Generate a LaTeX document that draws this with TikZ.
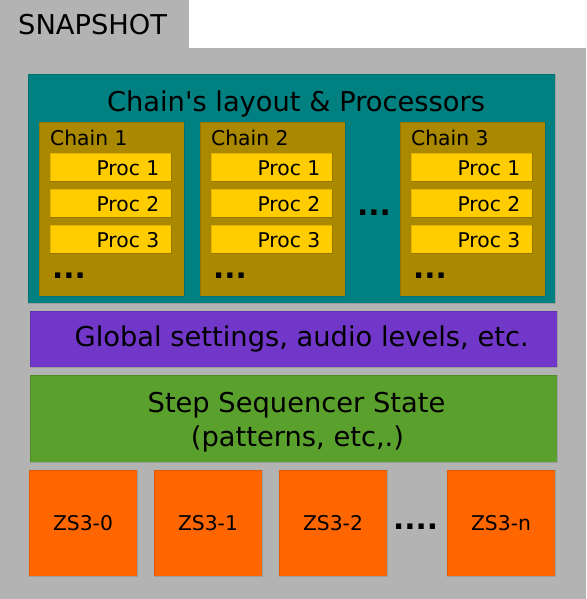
\documentclass[tikz,border=0pt]{standalone}
\usepackage{fontspec}
\setmainfont{DejaVu Sans}[Ligatures=TeXOff]
\definecolor{bg}{HTML}{B3B3B3}
\definecolor{tealc}{HTML}{008080}
\definecolor{olivec}{HTML}{AA8800}
\definecolor{procc}{HTML}{FFCC00}
\definecolor{purpc}{HTML}{7137C8}
\definecolor{grnc}{HTML}{5AA02C}
\definecolor{orngc}{HTML}{FF6600}
\tikzset{
  box/.style={anchor=north west, inner sep=0pt, outer sep=0pt, draw=black, draw opacity=0.12, line width=0.6pt},
  big/.style={font=\fontsize{27.3}{34}\selectfont, inner sep=0pt},
  small/.style={font=\fontsize{20.3}{24}\selectfont, inner sep=0pt},
  dotsf/.style={font=\fontsize{29.5}{34}\selectfont\bfseries, inner sep=0pt},
}
\begin{document}
\begin{tikzpicture}[x=1pt,y=-1pt]
\fill[bg] (0,0) rectangle (586,599);
\useasboundingbox (0,0) rectangle (586,599);
\fill[white] (189,0) rectangle (586,48);
\node[big, anchor=base west] (snap) at (18,35) {SNAPSHOT};

% layout block
\node[box, fill=tealc, minimum width=527pt, minimum height=229pt] (layout) at (28,74) {};
\node[big, anchor=base] (layoutt) at (296,111) {Chain's layout \& Processors};

% chains
\foreach \n/\x/\lab in {1/39/Chain 1, 2/200/Chain 2, 3/400/Chain 3}{
  \node[box, fill=olivec, minimum width=145pt, minimum height=174pt] (chain\n) at (\x,122) {};
  \node[small, anchor=base west] (chain\n t) at (\x+11,145) {\lab};
  \foreach \p/\y in {1/153,2/189,3/225}{
    \node[box, fill=procc, minimum width=121pt, minimum height=28pt] (proc\n\p) at (\x+11,\y) {};
    \node[small, anchor=base east] (proc\n\p t) at (\x+120.5,\y+22.5) {Proc \p};
  }
  \node[dotsf, anchor=base west] (cdots\n) at (\x+13,278) {...};
}
\node[dotsf, anchor=base west] (mdots) at (357,215.7) {...};

% global settings
\node[box, fill=purpc, minimum width=527pt, minimum height=56pt] (global) at (30,311) {};
\node[big, anchor=base west] (globalt) at (74.5,346.7) {Global settings, audio levels, etc.};

% step sequencer
\node[box, fill=grnc, minimum width=527pt, minimum height=87pt] (seq) at (30,375) {};
\node[big, anchor=base] (seqt1) at (296.5,412.7) {Step Sequencer State};
\node[big, anchor=base] (seqt2) at (297.5,446.7) {(patterns, etc,.)};

% zs3
\foreach \n/\x/\lab in {0/29/ZS3-0, 1/154/ZS3-1, 2/279/ZS3-2, n/447/ZS3-n}{
  \node[box, fill=orngc, minimum width=108pt, minimum height=106pt] (zs\n) at (\x,470) {};
  \node[small, anchor=base] (zs\n t) at (\x+54,530) {\lab};
}
\node[dotsf, anchor=base west] (zdots) at (393,529) {....};
\end{tikzpicture}
\end{document}
